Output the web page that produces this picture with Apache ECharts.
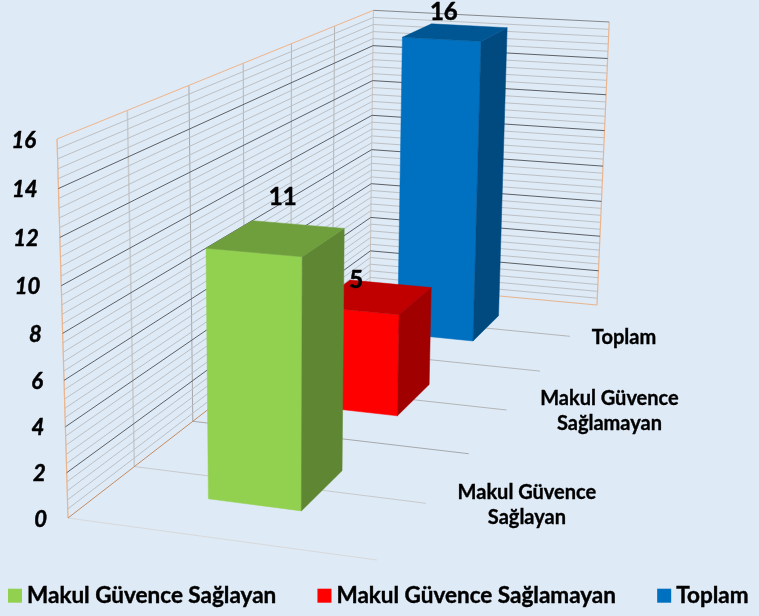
<!DOCTYPE html>
<html>
<head>
<meta charset="utf-8">
<style>
  html, body { margin: 0; padding: 0; background: #deeaf6; }
  #chart { width: 759px; height: 616px; }
</style>
<script src="https://cdn.jsdelivr.net/npm/echarts@6/dist/echarts.min.js"></script>
</head>
<body>
<div id="chart"></div>
<script>
const categories = ["Makul Güvence\nSağlayan", "Makul Güvence\nSağlamayan", "Toplam"];
const seriesNames = ["Makul Güvence Sağlayan", "Makul Güvence Sağlamayan", "Toplam"];
const barValues = [11, 5, 16];
const tickLabels = [0, 2, 4, 6, 8, 10, 12, 14, 16];
const minorLevels = 40; // 16 / 0.4

const FONT = "Lato";
const faces = [
    { front: "#92d050", top: "#6f9e3d", side: "#5f8633" },
    { front: "#ff0000", top: "#c00000", side: "#a00000" },
    { front: "#0070c0", top: "#005693", side: "#004a80" },
];
// label placement is per item in the reference, so nudges are kept by hand
const valueNudge = [[6, -41], [-18, -17], [-12, -20]];
const catNudge = [[101, 2], [103, 1.5], [54, 1]];

// perspective camera fitted to the wall corners: u = width, d = depth, v = height, all 0..1
function project(u, d, v) {
    const w = 1 - 0.0487 * u + 0.4084 * d - 0.05 * v;
    return [
        (68 + 290.64 * u + 453.1 * d - 13.85 * v) / w,
        (518 + 14.73 * u - 118 * d - 385.95 * v) / w,
    ];
}

// value axis -> height fraction, category axis -> depth fraction
function axisFractions(params, api, cat, val) {
    const cs = params.coordSys;
    const pt = api.coord([cat, val]);
    return { d: (pt[0] - cs.x) / cs.width, v: (cs.y + cs.height - pt[1]) / cs.height };
}

function line(a, b, stroke, lineWidth) {
    return {
        type: "line",
        shape: { x1: a[0], y1: a[1], x2: b[0], y2: b[1] },
        style: { stroke: stroke, lineWidth: lineWidth || 1, fill: null },
    };
}

function poly(points, fill) {
    return { type: "polygon", shape: { points: points }, style: { fill: fill, stroke: fill, lineWidth: 0.5 } };
}

function renderBar(params, api) {
    const i = api.value(0);
    const f = axisFractions(params, api, i, api.value(1));
    const c = faces[i];
    const u0 = 0.343, u1 = 0.655, d0 = f.d - 0.0655, d1 = f.d + 0.0655;
    const mid = project(0.5, f.d, f.v);
    return {
        type: "group",
        children: [
            poly([project(u0, d0, 0), project(u1, d0, 0), project(u1, d0, f.v), project(u0, d0, f.v)], c.front),
            poly([project(u1, d0, 0), project(u1, d1, 0), project(u1, d1, f.v), project(u1, d0, f.v)], c.side),
            poly([project(u0, d0, f.v), project(u1, d0, f.v), project(u1, d1, f.v), project(u0, d1, f.v)], c.top),
            {
                type: "text",
                style: {
                    x: mid[0] + valueNudge[i][0],
                    y: mid[1] + valueNudge[i][1],
                    text: String(api.value(1)),
                    fontFamily: FONT,
                    fontWeight: "bold",
                    fontSize: 24,
                    fill: "#000",
                    stroke: "#000",
                    lineWidth: 0.5,
                    align: "center",
                    verticalAlign: "middle",
                },
            },
        ],
    };
}

// horizontal grid lines on the left and back wall, one data item per level
function renderLevel(params, api) {
    const val = api.value(1);
    const f = axisFractions(params, api, 0, val);
    const major = api.value(2) === 1;
    const stroke = major ? "#5c6066" : "#bcc0c4";
    const children = [];
    if (val > 0 && val < 16) {
        children.push(line(project(0, 0, f.v), project(0, 1, f.v), stroke, 1));
    }
    if (val > 0) {
        children.push(line(project(0, 1, f.v), project(1, 1, f.v), val === 16 ? "#85888c" : stroke, 1));
    }
    if (major) {
        const p = project(0, 0, f.v);
        children.push({
            type: "text",
            style: {
                x: p[0] - 21,
                y: p[1] + 1.5,
                text: String(val),
                fontFamily: FONT,
                fontWeight: "bold",
                fontStyle: "italic",
                fontSize: 22,
                fill: "#000",
                stroke: "#000",
                lineWidth: 0.5,
                align: "right",
                verticalAlign: "middle",
            },
        });
    }
    return { type: "group", children: children };
}

const depthColors = ["#d8d9da", "#c8cacc", "#a6a9ac", "#b4b6b8", "#b4b6b8", "#b4b6b8", "#c9c3bf"];

function renderFrame() {
    const kids = [];
    for (let n = 0; n <= 6; n++) {
        const d = n / 6;
        kids.push(line(project(0, d, 0), project(1, d, 0), n === 6 ? "#e8b48c" : depthColors[n], 1));
        kids.push(line(project(0, d, 0), project(0, d, 1), depthColors[n], n === 1 ? 1.5 : 1));
    }
    kids.push(line(project(0, 0, 0), project(0, 0, 1), "#f0b48a", 1.2));
    kids.push(line(project(0, 0, 1), project(0, 1, 1), "#f0b48a", 1));
    kids.push(line(project(0, 0, 0), project(0, 1, 0), "#c48c62", 1));
    kids.push(line(project(1, 1, 0), project(1, 1, 1), "#f0b48a", 1.2));
    return { type: "group", children: kids };
}

function renderCategory(params, api) {
    const i = api.value(0);
    const f = axisFractions(params, api, i, 0);
    const p = project(1, f.d, 0);
    return {
        type: "text",
        style: {
            x: p[0] + catNudge[i][0],
            y: p[1] + catNudge[i][1],
            text: categories[i],
            fontFamily: FONT,
            fontWeight: "bold",
            fontSize: 20,
            lineHeight: 25,
            fill: "#000",
            stroke: "#000",
            lineWidth: 0.35,
            align: "center",
            verticalAlign: "middle",
        },
    };
}

const levels = [];
for (let n = 0; n <= minorLevels; n++) {
    const val = Math.round(n * 4) / 10;
    levels.push([0, val, tickLabels.indexOf(val) >= 0 ? 1 : 0]);
}
levels.sort((a, b) => a[2] - b[2]);

const customBase = { type: "custom", silent: true, clip: false, animation: false, coordinateSystem: "cartesian2d" };

const chart = echarts.init(document.getElementById("chart"), null, { renderer: "canvas" });
chart.setOption({
    backgroundColor: "#deeaf6",
    animation: false,
    grid: { left: 100, top: 100, width: 300, height: 300, show: false },
    xAxis: { type: "category", data: categories, show: false },
    yAxis: { type: "value", min: 0, max: 16, interval: 2, show: false },
    legend: {
        data: seriesNames,
        left: 3,
        top: 579,
        itemWidth: 14,
        itemHeight: 14,
        itemGap: 41,
        icon: "rect",
        selectedMode: false,
        textStyle: {
            fontFamily: FONT,
            fontWeight: "bold",
            fontSize: 22.5,
            color: "#000",
            textBorderColor: "#000",
            textBorderWidth: 0.4,
        },
    },
    series: [
        { ...customBase, name: "frame", z: 1, data: [[0, 0]], renderItem: renderFrame },
        { ...customBase, name: "levels", z: 2, data: levels, renderItem: renderLevel },
        { ...customBase, name: "categories", z: 2, data: categories.map((c, i) => [i, 0]), renderItem: renderCategory },
        ...seriesNames.map((name, i) => ({
            ...customBase,
            name: name,
            z: 5 - i,
            itemStyle: { color: faces[i].front },
            data: [[i, barValues[i]]],
            renderItem: renderBar,
        })),
    ],
});
</script>
</body>
</html>
